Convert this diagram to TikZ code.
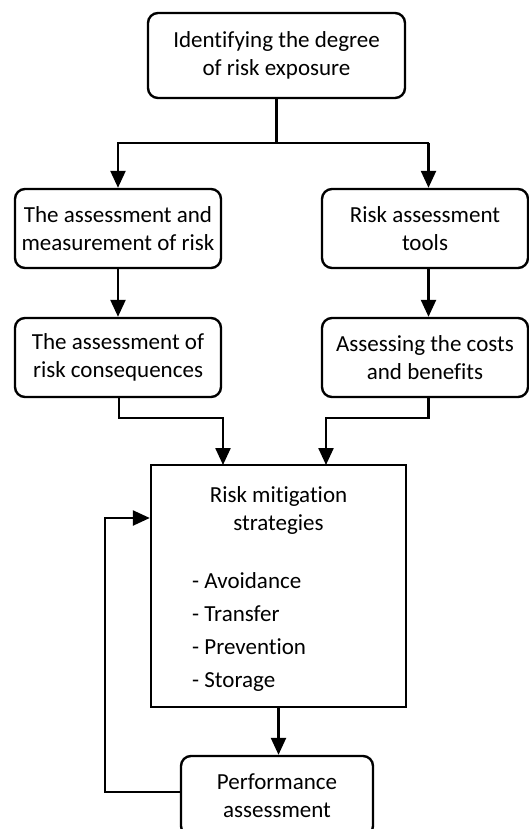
\documentclass[tikz,border=0pt]{standalone}
\usepackage{fontspec}
\setmainfont{Carlito}[Ligatures=NoCommon]
\usetikzlibrary{arrows.meta,calc}
\begin{document}
\begin{tikzpicture}[x=1pt,y=-1pt,
  rbox/.style={draw,line width=2.4pt,rounded corners=10pt,align=center,inner sep=0pt,font=\fontsize{23}{28}\selectfont},
  sbox/.style={draw,line width=2.4pt,inner sep=0pt},
  txt/.style={inner sep=0pt,font=\fontsize{23}{28}\selectfont},
  conn/.style={line width=2.4pt},
  arr/.style={line width=2.4pt,-{Triangle[width=15pt,length=17pt]}}]
\useasboundingbox (0,0) rectangle (529,829);
\clip (0,0) rectangle (529,829);
\node[rbox,minimum width=257pt,minimum height=85pt] (top) at (276.5,55.5) {Identifying the degree\\of risk exposure};
\node[rbox,minimum width=206pt,minimum height=79pt] (l1) at (118,228.5) {The assessment and\\measurement of risk};
\node[rbox,minimum width=206pt,minimum height=79pt] (r1) at (425,228.5) {Risk assessment\\tools};
\node[rbox,minimum width=206pt,minimum height=79pt] (l2) at (118,357.5) {The assessment of\\risk consequences};
\node[rbox,minimum width=206pt,minimum height=79pt] (r2) at (425,357.5) {Assessing the costs\\and benefits};
\node[sbox,minimum width=255pt,minimum height=242pt] (main) at (278.5,586) {};
\node[txt,align=center,anchor=north] (mt) at (278.5,486) {Risk mitigation\\strategies};
\node[txt,anchor=base west] (i1) at (192,588) {- Avoidance};
\node[txt,anchor=base west] (i2) at (192,621) {- Transfer};
\node[txt,anchor=base west] (i3) at (192,654) {- Prevention};
\node[txt,anchor=base west] (i4) at (192,687) {- Storage};
\node[rbox,minimum width=192pt,minimum height=80pt] (perf) at (277,796) {Performance\\assessment};
\coordinate (split) at (276.5,143);
\coordinate (rin1) at (428.5,143);
\coordinate (lj) at (119,418);
\coordinate (rj) at (428.5,418);
\coordinate (fb) at (105,792);
\draw[conn] (top.south) -- (split);
\draw[conn] (118,143) -- (rin1);
\draw[arr] (split) -| (l1.north);
\draw[arr] (rin1) -- (rin1 |- r1.north);
\draw[arr] (l1.south) -- (l2.north);
\draw[arr] (rin1 |- r1.south) -- (rin1 |- r2.north);
\draw[arr] (lj |- l2.south) -- (lj) -- (223,418) -- (223,465);
\draw[arr] (rj |- r2.south) -- (rj) -- (326,418) -- (326,465);
\draw[arr] (main.south) -- (main.south |- perf.north);
\draw[arr] (perf.west |- fb) -- (fb) -- (105,518) -- (main.west |- 0,518);
\end{tikzpicture}
\end{document}
